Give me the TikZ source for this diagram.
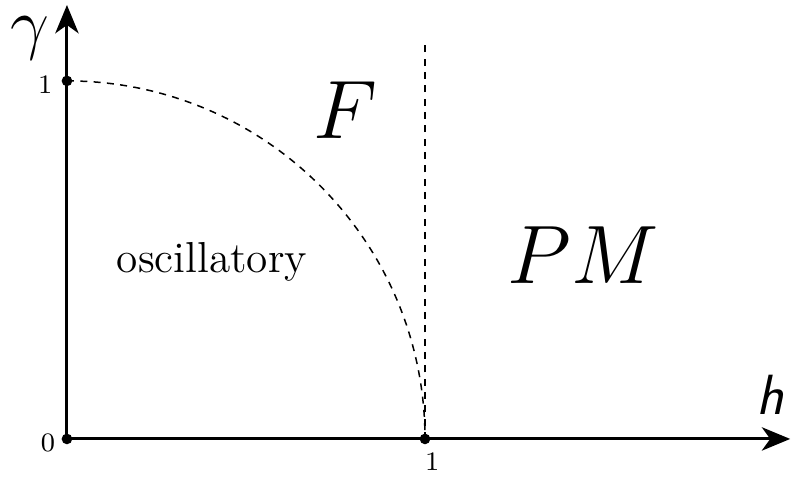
\documentclass[tikz,border=0pt]{standalone}
\usetikzlibrary{arrows.meta}
\begin{document}
\begin{tikzpicture}[x=107.4pt,y=107.4pt,
  axis/.style={line width=0.9pt,-{Stealth[length=8.5pt,width=7pt,inset=2.5pt]}},
  dline/.style={line width=0.45pt,dash pattern=on 2.1pt off 1.9pt},
  dotp/.style={circle,fill=black,inner sep=0pt,minimum size=3.2pt},
  lbl/.style={inner sep=0pt}]
\useasboundingbox (-0.187,-0.106) rectangle (2.039,1.226);
\node[dotp] (o) at (0,0) {};
\node[dotp] (g1) at (0,1) {};
\node[dotp] (h1) at (1,0) {};
\coordinate (xend) at (2.02,0);
\coordinate (yend) at (0,1.212);
\coordinate (vtop) at (1,1.10);
\draw[axis] (o.center) -- (xend);
\draw[axis] (o.center) -- (yend);
\draw[dline] (g1.center) arc[start angle=90,end angle=0,radius=1];
\draw[dline] (h1.center) -- (vtop);
\node[lbl] (gl) at (-0.103,1.118) {\fontsize{21}{25}\selectfont$\gamma$};
\node[lbl] (hl) at (1.964,0.123) {\fontsize{17}{21}\selectfont\sffamily\itshape h};
\node[lbl] (l1) at (-0.061,0.99) {\fontsize{8}{10}\selectfont 1};
\node[lbl] (l0) at (-0.053,-0.011) {\fontsize{8}{10}\selectfont 0};
\node[lbl] (l1x) at (1.02,-0.064) {\fontsize{8}{10}\selectfont 1};
\node[lbl] (F) at (0.777,0.919) {\fontsize{23}{28}\selectfont$F$};
\node[lbl] (osc) at (0.405,0.494) {\fontsize{13}{16}\selectfont oscillatory};
\node[lbl] (PM) at (1.441,0.514) {\fontsize{24}{29}\selectfont$PM$};
\end{tikzpicture}
\end{document}
